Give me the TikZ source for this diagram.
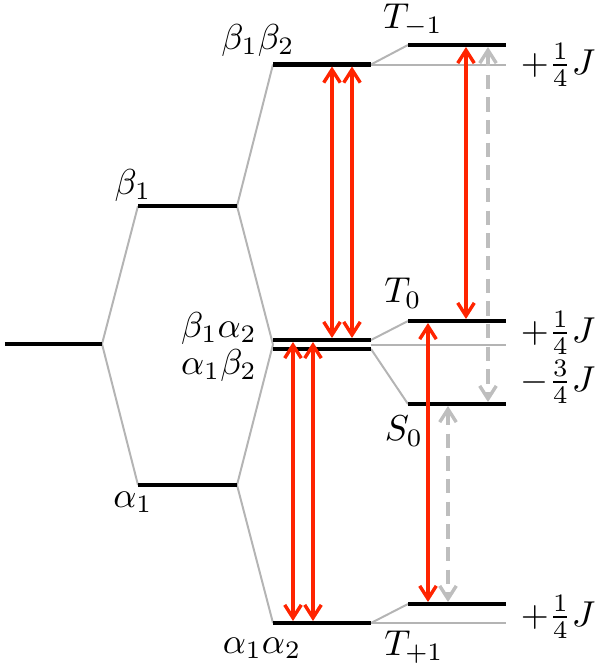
\documentclass[tikz,border=0pt]{standalone}
\usetikzlibrary{arrows.meta}
\definecolor{arrred}{RGB}{255,36,0}
\definecolor{connGray}{RGB}{180,180,180}
\definecolor{dashGray}{RGB}{190,190,190}
\begin{document}
\begin{tikzpicture}[x=0.2778pt,y=-0.2778pt,
  level/.style={line width=1.15pt, black},
  conn/.style={line width=0.55pt, connGray},
  trans/.style={line width=0.95pt, arrred, {Straight Barb[length=3.6pt,width=4.6pt]}-{Straight Barb[length=3.6pt,width=4.6pt]}},
  forbid/.style={line width=0.95pt, dashGray, dash pattern=on 4pt off 2.3pt, {Straight Barb[length=3.6pt,width=4.6pt]}-{Straight Barb[length=3.6pt,width=4.6pt]}},
  lab/.style={inner sep=0pt}]
\useasboundingbox (0,0) rectangle (600,672);
% level end points
\coordinate (L0w) at (5,344);   \coordinate (L0e) at (102,344);
\coordinate (B1w) at (138,206); \coordinate (B1e) at (237,206);
\coordinate (A1w) at (138,485); \coordinate (A1e) at (237,485);
\coordinate (BBw) at (273,64.5);  \coordinate (BBe) at (371,64.5);
\coordinate (BAw) at (273,340); \coordinate (BAe) at (371,340);
\coordinate (ABw) at (273,349); \coordinate (ABe) at (371,349);
\coordinate (Mw) at (273,344.5); \coordinate (Me) at (371,344.5);
\coordinate (AAw) at (273,623); \coordinate (AAe) at (371,623);
\coordinate (Tmw) at (408,45);  \coordinate (Tme) at (506,45);
\coordinate (T0w) at (408,321); \coordinate (T0e) at (506,321);
\coordinate (S0w) at (408,404); \coordinate (S0e) at (506,404);
\coordinate (Tpw) at (408,604); \coordinate (Tpe) at (506,604);
\coordinate (Rt) at (506,64.5); \coordinate (Rm) at (506,344.5); \coordinate (Rb) at (506,623);
% connectors
\draw[conn] (B1w) -- (L0e) -- (A1w);
\draw[conn] (BBw) -- (B1e) -- (Mw) -- (A1e) -- (AAw);
\draw[conn] (BBe) -- (Tmw);
\draw[conn] (BBe) -- (Rt);
\draw[conn] (BAe) -- (T0w);
\draw[conn] (ABe) -- (S0w);
\draw[conn] (Me) -- (Rm);
\draw[conn] (AAe) -- (Tpw);
\draw[conn] (AAe) -- (Rb);
% levels
\foreach \a/\b in {L0w/L0e,B1w/B1e,A1w/A1e,BBw/BBe,BAw/BAe,ABw/ABe,AAw/AAe,Tmw/Tme,T0w/T0e,S0w/S0e,Tpw/Tpe}
  \draw[level] (\a) -- (\b);
% transition end points
\coordinate (r1a) at (332,66.5); \coordinate (r1b) at (332,338);
\coordinate (r2a) at (352,66.5); \coordinate (r2b) at (352,338);
\coordinate (r3a) at (293,342);  \coordinate (r3b) at (293,621);
\coordinate (r4a) at (313,342);  \coordinate (r4b) at (313,621);
\coordinate (r5a) at (466,47);   \coordinate (r5b) at (466,319);
\coordinate (r6a) at (428,323);  \coordinate (r6b) at (428,602);
\coordinate (g1a) at (488,47);   \coordinate (g1b) at (488,402);
\coordinate (g2a) at (448,406);  \coordinate (g2b) at (448,602);
\draw[trans] (r1a) -- (r1b);
\draw[trans] (r2a) -- (r2b);
\draw[trans] (r3a) -- (r3b);
\draw[trans] (r4a) -- (r4b);
\draw[trans] (r5a) -- (r5b);
\draw[trans] (r6a) -- (r6b);
\draw[forbid] (g1a) -- (g1b);
\draw[forbid] (g2a) -- (g2b);
% labels
\node[lab] (lBB) at (258,40) {$\beta_1\beta_2$};
\node[lab] (lB1) at (133,185) {$\beta_1$};
\node[lab] (lBA) at (219,328) {$\beta_1\alpha_2$};
\node[lab] (lAB) at (219,365) {$\alpha_1\beta_2$};
\node[lab] (lA1) at (133,502) {$\alpha_1$};
\node[lab] (lAA) at (262,648) {$\alpha_1\alpha_2$};
\node[lab] (lTm) at (413,20) {$T_{-1}$};
\node[lab] (lT0) at (403,293) {$T_0$};
\node[lab] (lS0) at (404,431) {$S_0$};
\node[lab] (lTp) at (414,647) {$T_{+1}$};
\node[lab] (eTm) at (558,65) {$+\frac{1}{4}J$};
\node[lab] (eT0) at (558,333) {$+\frac{1}{4}J$};
\node[lab] (eS0) at (558,382) {$-\frac{3}{4}J$};
\node[lab] (eTp) at (558,617) {$+\frac{1}{4}J$};
\end{tikzpicture}
\end{document}
